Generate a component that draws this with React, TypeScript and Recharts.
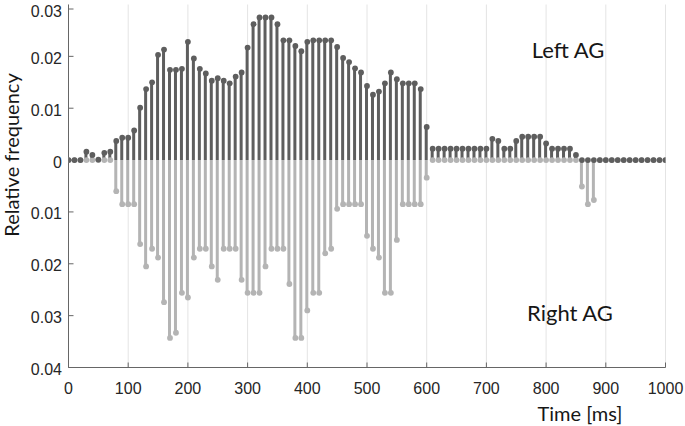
import { Bar, CartesianGrid, ComposedChart, Scatter, XAxis, YAxis } from "recharts";

// 10 ms bins, 0..1000 ms
const TIME_MS = Array.from({ length: 101 }, (_, i) => i * 10);

// Left AG (drawn upwards)
const LEFT_AG = [
  0, 0, 0, 0.0016, 0.001, 0.0001, 0.0014, 0.0016, 0.0037, 0.0043,
  0.0043, 0.0057, 0.0101, 0.0137, 0.015, 0.0203, 0.0213, 0.0174, 0.0174, 0.0176,
  0.0228, 0.0196, 0.0176, 0.0167, 0.0153, 0.0158, 0.0153, 0.0148, 0.0161, 0.0169,
  0.0217, 0.0262, 0.0275, 0.0275, 0.0275, 0.0262, 0.0231, 0.0231, 0.022, 0.021,
  0.0228, 0.0231, 0.0231, 0.0231, 0.0231, 0.0218, 0.0197, 0.0189, 0.0177, 0.0169,
  0.0143, 0.0126, 0.0132, 0.0148, 0.0169, 0.0156, 0.0148, 0.0148, 0.0148, 0.0137,
  0.0064, 0.0022, 0.0022, 0.0022, 0.0022, 0.0022, 0.0022, 0.0022, 0.0022, 0.0022,
  0.0022, 0.0041, 0.0037, 0.0022, 0.0022, 0.0037, 0.0045, 0.0045, 0.0045, 0.0045,
  0.0032, 0.0022, 0.0022, 0.0022, 0.0022, 0.001, 0, 0, 0, 0,
  0, 0, 0, 0, 0, 0, 0, 0, 0, 0,
  0,
];

// Right AG (drawn downwards, stored negative)
const RIGHT_AG = [
  0, 0, 0, 0, 0, 0, 0, 0, -0.006, -0.0085,
  -0.0085, -0.0085, -0.0162, -0.0205, -0.0171, -0.0188, -0.0274, -0.0343, -0.0333, -0.0256,
  -0.0265, -0.0188, -0.0171, -0.0171, -0.0205, -0.0231, -0.0171, -0.0171, -0.0171, -0.0231,
  -0.0256, -0.0256, -0.0256, -0.0205, -0.0171, -0.0171, -0.0171, -0.0239, -0.0343, -0.0343,
  -0.029, -0.0256, -0.0256, -0.018, -0.0171, -0.0094, -0.0085, -0.0085, -0.0085, -0.0085,
  -0.0146, -0.0171, -0.0188, -0.0256, -0.0256, -0.0154, -0.0085, -0.0085, -0.0085, -0.0085,
  -0.0034, 0, 0, 0, 0, 0, 0, 0, 0, 0,
  0, 0, 0, 0, 0, 0, 0, 0, 0, 0,
  0, 0, 0, 0, 0, 0, -0.0051, -0.0085, -0.0077, 0,
  0, 0, 0, 0, 0, 0, 0, 0, 0, 0,
  0,
];

const X_TICKS = [0, 100, 200, 300, 400, 500, 600, 700, 800, 900, 1000];
const Y_TICKS = [-0.04, -0.03, -0.02, -0.01, 0, 0.01, 0.02, 0.03];

const DARK = "#5e5e5e";
const LIGHT = "#b4b4b4";
const AXIS = "#666666";
const TICK_LEN = 5;
const LEFT_GAP = 6.5;
const BOTTOM_GAP = 26;
const TICK_FONT = { fontFamily: "'Liberation Sans', Arial, sans-serif", fontSize: 16, fill: "#262626" };
const LABEL_FONT = { fontFamily: "Lato, 'Open Sans', sans-serif", fill: "#161616" };

const data = TIME_MS.map((t, i) => ({ t, left: LEFT_AG[i], right: RIGHT_AG[i] }));

const yLabel = (v: number) => String(Math.round(Math.abs(v) * 100) / 100);

// inside tick marks, MATLAB-style box
function BottomTick({ x, y, payload }: any) {
  const axisY = y - BOTTOM_GAP;
  return (
    <g>
      <line x1={x} x2={x} y1={axisY} y2={axisY - TICK_LEN} stroke={AXIS} />
      <text x={x} y={y} textAnchor="middle" {...TICK_FONT}>{payload.value}</text>
    </g>
  );
}

function LeftTick({ x, y, payload }: any) {
  const axisX = x + LEFT_GAP;
  return (
    <g>
      <line x1={axisX} x2={axisX + TICK_LEN} y1={y} y2={y} stroke={AXIS} />
      <text x={x} y={y + 7.5} textAnchor="end" {...TICK_FONT}>{yLabel(payload.value)}</text>
    </g>
  );
}

function TopTick({ x, y }: any) {
  return <line x1={x} x2={x} y1={y} y2={y + TICK_LEN} stroke={AXIS} />;
}

function RightTick({ x, y }: any) {
  return <line x1={x} x2={x - TICK_LEN} y1={y} y2={y} stroke={AXIS} />;
}

const dot = (color: string) => (p: any) => <circle cx={p.cx} cy={p.cy} r={2.9} fill={color} />;

export default function App() {
  return (
    <div style={{ position: "absolute", left: 0, top: 0, width: 685, height: 426, background: "#fff" }}>
      <ComposedChart
        width={685}
        height={426}
        data={data}
        stackOffset="sign"
        margin={{ top: 4.5, right: 19.5, left: 0, bottom: 0 }}
      >
        <CartesianGrid vertical horizontal={false} stroke="#e4e4e4" />
        <XAxis
          dataKey="t"
          type="number"
          domain={[0, 1000]}
          ticks={X_TICKS}
          allowDataOverflow
          height={58.5}
          tickSize={0}
          tickMargin={BOTTOM_GAP}
          tickLine={false}
          axisLine={{ stroke: AXIS }}
          tick={<BottomTick />}
        />
        <XAxis
          xAxisId="top"
          orientation="top"
          dataKey="t"
          type="number"
          domain={[0, 1000]}
          ticks={X_TICKS}
          allowDataOverflow
          height={0}
          tickSize={0}
          tickMargin={0}
          tickLine={false}
          axisLine={{ stroke: AXIS }}
          tick={<TopTick />}
        />
        <YAxis
          type="number"
          domain={[-0.04, 0.03]}
          ticks={Y_TICKS}
          allowDataOverflow
          width={68.5}
          tickSize={0}
          tickMargin={LEFT_GAP}
          tickLine={false}
          axisLine={{ stroke: AXIS }}
          tick={<LeftTick />}
        />
        <YAxis
          yAxisId="right"
          orientation="right"
          type="number"
          domain={[-0.04, 0.03]}
          ticks={Y_TICKS}
          allowDataOverflow
          width={0}
          tickSize={0}
          tickMargin={0}
          tickLine={false}
          axisLine={{ stroke: AXIS }}
          tick={<RightTick />}
        />
        <Bar dataKey="right" stackId="s" fill={LIGHT} barSize={3} isAnimationActive={false} />
        <Scatter dataKey="right" fill={LIGHT} shape={dot(LIGHT)} isAnimationActive={false} />
        <Bar dataKey="left" stackId="s" fill={DARK} barSize={3} isAnimationActive={false} />
        <Scatter dataKey="left" fill={DARK} shape={dot(DARK)} isAnimationActive={false} />
      </ComposedChart>
      <svg width={685} height={426} style={{ position: "absolute", left: 0, top: 0, pointerEvents: "none" }}>
        <text transform="translate(18.5,155) rotate(-90)" textAnchor="middle" fontSize={20} {...LABEL_FONT}>
          Relative frequency
        </text>
        <text x={580} y={420.7} textAnchor="middle" fontSize={20} {...LABEL_FONT}>Time [ms]</text>
        <text x={568} y={58.3} textAnchor="middle" fontSize={22} {...LABEL_FONT}>Left AG</text>
        <text x={570} y={321} textAnchor="middle" fontSize={22} {...LABEL_FONT}>Right AG</text>
      </svg>
    </div>
  );
}
